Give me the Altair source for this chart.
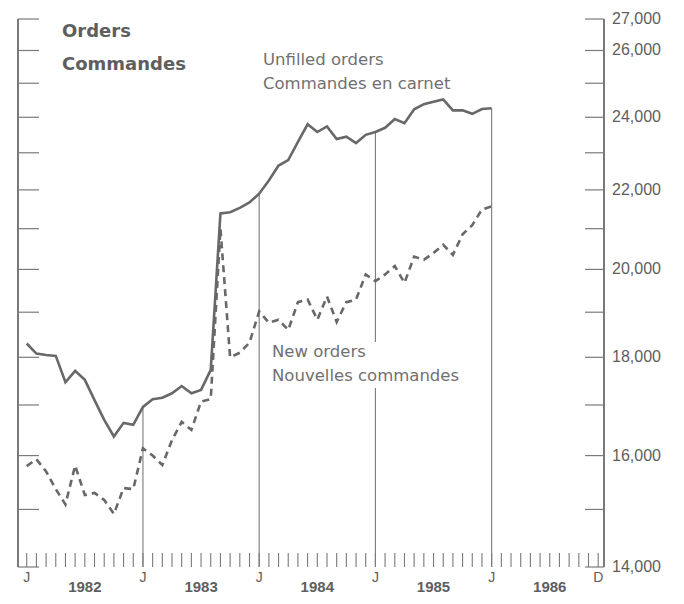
import altair as alt
import pandas as pd

# ---- data (monthly, Jan 1982 = 0) ----
months = list(range(49))
unfilled = [18300, 18080, 18050, 18030, 17470, 17710, 17520, 17100, 16700, 16370,
            16640, 16600, 16960, 17120, 17150, 17240, 17390, 17240, 17310, 17730,
            21390, 21420, 21530, 21670, 21900, 22250, 22650, 22800, 23300, 23800,
            23580, 23740, 23380, 23450, 23270, 23500, 23580, 23700, 23950, 23830,
            24230, 24380, 24450, 24520, 24200, 24200, 24100, 24240, 24260]
new_orders = [15800, 15930, 15700, 15370, 15090, 15810, 15260, 15300, 15170, 14920,
              15390, 15370, 16140, 16000, 15820, 16300, 16660, 16500, 17070, 17120,
              21000, 18000, 18100, 18320, 19020, 18760, 18830, 18600, 19230, 19290,
              18830, 19360, 18780, 19230, 19290, 19880, 19720, 19880, 20080, 19680,
              20310, 20230, 20400, 20600, 20350, 20860, 21090, 21490, 21570]

tick_values = list(range(14000, 27001, 1000))
label_values = [14000, 16000, 18000, 20000, 22000, 24000, 26000, 27000]
label_texts = ["14,000", "16,000", "18,000", "20,000", "22,000", "24,000", "26,000", "27,000"]
month_ticks = list(range(60))
drop_months = [12, 24, 36, 48]
edge_months = [0, 12, 24, 36, 48, 59]
edge_labels = ["J", "J", "J", "J", "J", "D"]
year_months = [6, 18, 30, 42, 54]
year_labels = ["1982", "1983", "1984", "1985", "1986"]

W, H = 586, 548
GRAY = "#5e5e5e"
LINE = "#686868"
AX = "#7a7a7a"

xs = alt.Scale(domain=[-0.9, 59.6], nice=False, zero=False)
ys = alt.Scale(type="log", domain=[14000, 27000], nice=False)

df_u = pd.DataFrame({"m": months, "v": unfilled})
df_n = pd.DataFrame({"m": months, "v": new_orders})
df_drop = df_u[df_u["m"].isin(drop_months)]
df_t = pd.DataFrame({"t": tick_values})
df_lab = pd.DataFrame({"t": label_values, "lab": label_texts})
df_mt = pd.DataFrame({"m": month_ticks})
df_j = pd.DataFrame({"m": edge_months, "lab": edge_labels})
df_y = pd.DataFrame({"m": year_months, "lab": year_labels})

line_u = alt.Chart(df_u).mark_line(color=LINE, strokeWidth=2.6).encode(
    x=alt.X("m:Q", scale=xs, title=None,
            axis=alt.Axis(labels=False, ticks=False, grid=False, domainColor=AX, domainWidth=1.3)),
    y=alt.Y("v:Q", scale=ys, axis=None),
)

line_n = alt.Chart(df_n).mark_line(color=LINE, strokeWidth=2.6, strokeDash=[7, 5]).encode(
    x=alt.X("m:Q", scale=xs, axis=None),
    y=alt.Y("v:Q", scale=ys, axis=None),
)

drops = alt.Chart(df_drop).mark_rule(color=AX, strokeWidth=1.1).encode(
    x=alt.X("m:Q", scale=xs, axis=None),
    y=alt.Y("v:Q", scale=ys, axis=None),
    y2=alt.datum(14000),
)

# white backing behind the "New orders" label (interrupts the drop line like the original)
label_bg = alt.Chart(df_t.head(1)).mark_rect(color="white").encode(
    x=alt.value(250), x2=alt.value(452), y=alt.value(323), y2=alt.value(369)
)

left_line = alt.Chart(df_t).mark_rule(color=AX, strokeWidth=1.3).encode(
    x=alt.value(0), y=alt.value(0), y2=alt.value(H)
)
right_line = alt.Chart(df_t).mark_rule(color=AX, strokeWidth=1.3).encode(
    x=alt.value(W), y=alt.value(0), y2=alt.value(H)
)

left_ticks = alt.Chart(df_t).mark_rule(color=AX, strokeWidth=1.2).encode(
    y=alt.Y("t:Q", scale=ys, axis=None), x=alt.value(0), x2=alt.value(21)
)
right_ticks = alt.Chart(df_t).mark_rule(color=AX, strokeWidth=1.2).encode(
    y=alt.Y("t:Q", scale=ys, axis=None), x=alt.value(W - 19), x2=alt.value(W)
)

right_labels = alt.Chart(df_lab).mark_text(
    font="Liberation Sans", fontSize=16, color=GRAY, align="left", baseline="middle"
).encode(y=alt.Y("t:Q", scale=ys, axis=None), x=alt.value(W + 8), text="lab:N")

mticks = alt.Chart(df_mt).mark_rule(color=AX, strokeWidth=1.1).encode(
    x=alt.X("m:Q", scale=xs, axis=None), y=alt.value(H - 14), y2=alt.value(H)
)

jlabels = alt.Chart(df_j).mark_text(font="Liberation Sans", fontSize=14, color=GRAY,
                                    baseline="middle").encode(
    x=alt.X("m:Q", scale=xs, axis=None), y=alt.value(H + 11), text="lab:N"
)
ylabels = alt.Chart(df_y).mark_text(font="Liberation Sans", fontSize=15, fontWeight="bold",
                                    color=GRAY, baseline="middle").encode(
    x=alt.X("m:Q", scale=xs, axis=None), y=alt.value(H + 20), text="lab:N"
)

ann_df = pd.DataFrame({
    "txt": ["Orders", "Commandes", "Unfilled orders", "Commandes en carnet",
            "New orders", "Nouvelles commandes"],
    "px": [44, 44, 245, 245, 254, 254],
    "py": [13, 46, 41, 65, 333, 357],
    "bold": [True, True, False, False, False, False],
})

ann_bold = alt.Chart(ann_df[ann_df["bold"]]).mark_text(
    font="DejaVu Sans", fontSize=18, fontWeight="bold", color=GRAY, align="left", baseline="middle"
).encode(x=alt.X("px:Q", scale=None, axis=None), y=alt.Y("py:Q", scale=None, axis=None), text="txt:N")

ann_norm = alt.Chart(ann_df[~ann_df["bold"]]).mark_text(
    font="DejaVu Sans", fontSize=16.5, color="#707070", align="left", baseline="middle"
).encode(x=alt.X("px:Q", scale=None, axis=None), y=alt.Y("py:Q", scale=None, axis=None), text="txt:N")

chart = alt.layer(
    mticks, drops, label_bg, left_line, right_line, left_ticks, right_ticks, right_labels,
    line_n, line_u, jlabels, ylabels, ann_bold, ann_norm
).properties(
    width=W, height=H,
    autosize=alt.AutoSizeParams(type="none"),
    padding={"left": 10, "top": 11, "right": 72, "bottom": 27},
    background="white",
).configure_view(stroke=None)

chart.save("out.html", embed_options={"renderer": "svg", "actions": False})
